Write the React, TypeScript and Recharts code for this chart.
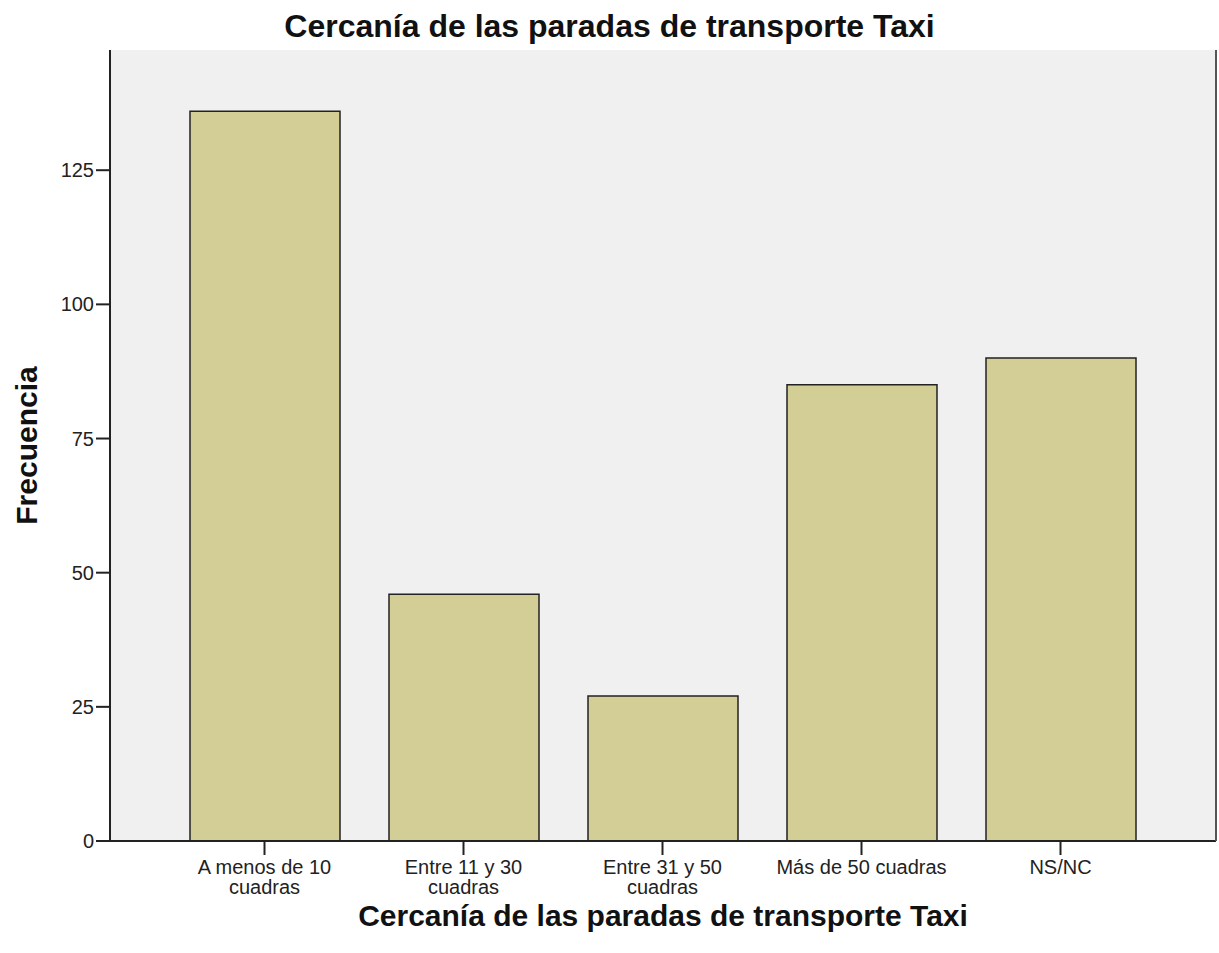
import { BarChart, Bar, XAxis, YAxis, CartesianGrid } from "recharts";

const categories = ["A menos de 10\ncuadras", "Entre 11 y 30\ncuadras", "Entre 31 y 50\ncuadras", "Más de 50 cuadras", "NS/NC"];
const frecuencias = [136, 46, 27, 85, 90];
const yTicks = [0, 25, 50, 75, 100, 125];

const data = categories.map((c, i) => ({ cat: c, value: frecuencias[i] }));

const FONT = "'Liberation Sans', Arial, sans-serif";
const TITLE = "Cercanía de las paradas de transporte Taxi";

function CategoryTick(props: any) {
    const { x, y, payload } = props;
    const lines = String(payload.value).split("\n");
    return (
        <text x={x} y={y} textAnchor="middle" fill="#222" fontSize={20} fontFamily={FONT}>
            {lines.map((l, i) => (
                <tspan key={i} x={x} dy={i === 0 ? 17 : 20}>{l}</tspan>
            ))}
        </text>
    );
}

export default function App() {
    return (
        <div style={{ position: "relative", width: 1219, height: 953, background: "#fff" }}>
            <style>{`body{margin:0}`}</style>
            <div
                style={{
                    position: "absolute", top: 10, left: 0, width: 1219, textAlign: "center",
                    fontFamily: FONT, fontWeight: "bold", fontSize: 32, lineHeight: "32px", color: "#111",
                }}
            >
                {TITLE}
            </div>
            <BarChart
                width={1219}
                height={953}
                data={data}
                margin={{ top: 50, right: 0, bottom: 0, left: 0 }}
                style={{ position: "absolute", top: 0, left: 0 }}
            >
                <CartesianGrid horizontal={false} vertical={false} fill="#f0f0f0" />
                <XAxis
                    dataKey="cat"
                    height={112}
                    padding={{ left: 55, right: 56 }}
                    interval={0}
                    tick={<CategoryTick />}
                    tickSize={14}
                    tickLine={{ stroke: "#222", strokeWidth: 2 }}
                    axisLine={{ stroke: "#222", strokeWidth: 2 }}
                    label={{
                        content: (p: any) => (
                            <text
                                x={p.viewBox.x + p.viewBox.width / 2}
                                y={926}
                                textAnchor="middle"
                                fontFamily={FONT}
                                fontWeight="bold"
                                fontSize={30}
                                fill="#111"
                            >
                                {TITLE}
                            </text>
                        ),
                    }}
                />
                <XAxis xAxisId="top" orientation="top" dataKey="cat" height={0} tick={false} tickLine={false} axisLine={{ stroke: "#555", strokeWidth: 2 }} />
                <YAxis
                    width={110}
                    domain={[0, 147.4]}
                    ticks={yTicks}
                    tickSize={14}
                    tickMargin={2}
                    tick={{ fill: "#222", fontSize: 20, fontFamily: FONT }}
                    tickLine={{ stroke: "#222", strokeWidth: 2 }}
                    axisLine={{ stroke: "#222", strokeWidth: 2 }}
                    label={{
                        content: (p: any) => {
                            const cy = p.viewBox.y + p.viewBox.height / 2;
                            return (
                                <text
                                    x={26}
                                    y={cy}
                                    transform={`rotate(-90, 26, ${cy})`}
                                    textAnchor="middle"
                                    dominantBaseline="central"
                                    fontFamily={FONT}
                                    fontWeight="bold"
                                    fontSize={30}
                                    fill="#111"
                                >
                                    Frecuencia
                                </text>
                            );
                        },
                    }}
                />
                <YAxis yAxisId="right" orientation="right" width={3} domain={[0, 147.4]} tick={false} tickLine={false} axisLine={{ stroke: "#555", strokeWidth: 2 }} />
                <Bar dataKey="value" barSize={150} fill="#d3cd96" stroke="#222" strokeWidth={1.5} isAnimationActive={false} />
            </BarChart>
        </div>
    );
}
